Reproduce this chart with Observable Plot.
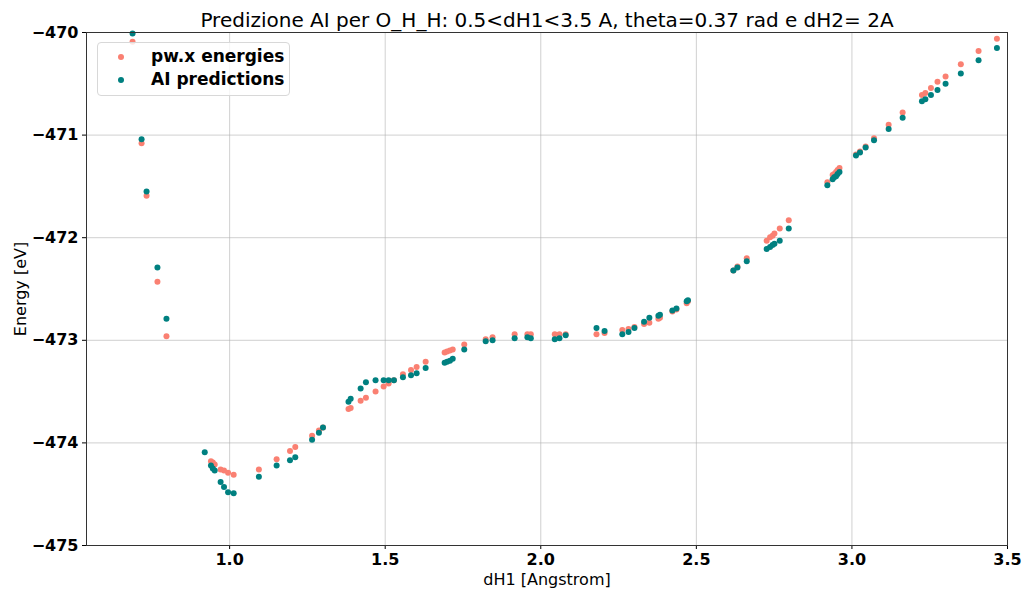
<!DOCTYPE html>
<html>
<head>
<meta charset="utf-8">
<script src="https://cdn.jsdelivr.net/npm/d3@7"></script>
<script src="https://cdn.jsdelivr.net/npm/@observablehq/plot@0.6"></script>
<style>
  body { margin: 0; background: #fff; }
  #wrap { position: relative; width: 1023px; height: 590px; font-family: "DejaVu Sans", sans-serif; }
  #legend { position: absolute; left: 97px; top: 42px; width: 193px; height: 54px; box-sizing: border-box;
    border: 1px solid #d8d8d8; border-radius: 4px; background: rgba(255,255,255,0.8); }
  .li { position: absolute; font-weight: bold; font-size: 17px; line-height: 20px; color: #000; white-space: nowrap; }
  .sw { position: absolute; left: 20px; width: 6px; height: 6px; border-radius: 50%; }
</style>
</head>
<body>
<div id="wrap">
  <div id="chart"></div>
  <div id="legend">
    <div class="sw" style="top:11px;background:#fa8072"></div>
    <div class="li" style="left:53px;top:3px">pw.x energies</div>
    <div class="sw" style="top:34px;background:#008080"></div>
    <div class="li" style="left:53px;top:26px">AI predictions</div>
  </div>
</div>
<script>
// dH1 values (Angstrom), reference pw.x energies and AI predictions (eV)
const dH1 = [0.688,0.717,0.733,0.768,0.797,0.920,0.940,0.946,0.952,0.971,0.982,0.995,1.013,1.094,1.151,1.194,1.211,1.265,1.287,1.300,
  1.382,1.389,1.421,1.438,1.469,1.495,1.511,1.528,1.557,1.583,1.601,1.630,1.691,1.699,1.708,1.717,1.754,1.823,1.845,1.916,
  1.957,1.968,2.045,2.060,2.080,2.179,2.205,2.262,2.282,2.301,2.332,2.349,2.378,2.383,2.423,2.436,2.469,2.473,2.619,2.632,
  2.662,2.726,2.737,2.745,2.751,2.768,2.797,2.921,2.938,2.943,2.949,2.954,2.960,3.013,3.026,3.044,3.071,3.118,3.163,3.225,
  3.236,3.254,3.275,3.301,3.350,3.407,3.466];
const pwx = [-470.09,-471.08,-471.59,-472.43,-472.96,null,-474.18,-474.19,-474.21,-474.26,-474.27,-474.29,-474.31,-474.26,-474.16,-474.08,-474.04,-473.93,-473.88,-473.85,
  -473.67,-473.66,-473.59,-473.56,-473.50,-473.45,-473.42,-473.39,-473.33,-473.29,-473.26,-473.21,-473.12,-473.11,-473.10,-473.09,-473.04,-472.99,-472.97,-472.94,
  -472.94,-472.94,-472.94,-472.94,-472.94,-472.94,-472.93,-472.90,-472.89,-472.87,-472.84,-472.83,-472.79,-472.78,-472.72,-472.70,-472.64,-472.62,-472.32,-472.28,
  -472.20,-472.03,-471.995,-471.98,-471.96,-471.91,-471.83,-471.46,-471.39,-471.38,-471.36,-471.34,-471.32,-471.19,-471.16,-471.11,-471.03,-470.90,-470.78,-470.61,
  -470.59,-470.54,-470.48,-470.43,-470.31,-470.18,-470.06];
const ai = [-470.01,-471.04,-471.55,-472.29,-472.79,-474.09,-474.22,-474.25,-474.27,-474.38,-474.43,-474.48,-474.49,-474.33,-474.22,-474.17,-474.14,-473.97,-473.90,-473.85,
  -473.60,-473.57,-473.47,-473.41,-473.39,-473.39,-473.39,-473.39,-473.36,-473.34,-473.32,-473.27,-473.22,-473.21,-473.20,-473.18,-473.09,-473.01,-473.00,-472.98,
  -472.97,-472.98,-472.99,-472.98,-472.95,-472.88,-472.91,-472.94,-472.92,-472.88,-472.82,-472.78,-472.76,-472.75,-472.71,-472.69,-472.62,-472.61,-472.32,-472.29,
  -472.23,-472.11,-472.09,-472.07,-472.06,-472.03,-471.91,-471.49,-471.43,-471.41,-471.40,-471.38,-471.36,-471.20,-471.17,-471.12,-471.05,-470.94,-470.83,-470.67,
  -470.65,-470.61,-470.56,-470.50,-470.40,-470.27,-470.15];
const xTicks = [1.0, 1.5, 2.0, 2.5, 3.0, 3.5];
const yTicks = [-475, -474, -473, -472, -471, -470];
const titleText = "Predizione AI per O_H_H: 0.5<dH1<3.5 A, theta=0.37 rad e dH2= 2A";

const pwData = dH1.map((x, i) => ({x, y: pwx[i]})).filter(d => d.y != null);
const aiData = dH1.map((x, i) => ({x, y: ai[i]})).filter(d => d.y != null);
const minus = d3.format("d");

const chart = Plot.plot({
  width: 1023, height: 590,
  marginLeft: 86, marginRight: 16, marginTop: 32, marginBottom: 45,
  style: {fontFamily: "DejaVu Sans", fontSize: "16px", fontWeight: "bold", background: "#fff", color: "#000"},
  x: {domain: [0.54, 3.5]},
  y: {domain: [-475, -470]},
  marks: [
    Plot.gridX(xTicks, {stroke: "#b0b0b0", strokeOpacity: 0.6}),
    Plot.gridY(yTicks, {stroke: "#b0b0b0", strokeOpacity: 0.6}),
    Plot.axisX(xTicks, {tickSize: 4, tickPadding: 4, tickFormat: d => d.toFixed(1), label: null, fontWeight: "bold"}),
    Plot.axisY(yTicks, {tickSize: 4, tickPadding: 4, tickFormat: minus, label: null, fontWeight: "bold"}),
    Plot.dot(pwData, {x: "x", y: "y", r: 3, fill: "#fa8072", stroke: "none"}),
    Plot.dot(aiData, {x: "x", y: "y", r: 3, fill: "#008080", stroke: "none"}),
    Plot.frame({stroke: "#333", strokeWidth: 1}),
    Plot.text([titleText], {frameAnchor: "top", lineAnchor: "middle", dy: -12, fontSize: 20, fontWeight: "normal", fill: "#000"}),
    Plot.text(["dH1 [Angstrom]"], {frameAnchor: "bottom", lineAnchor: "middle", dy: 34, fontSize: 16, fontWeight: "normal", fill: "#000"}),
    Plot.text(["Energy [eV]"], {frameAnchor: "left", textAnchor: "middle", lineAnchor: "middle", dx: -66, rotate: -90, fontSize: 16, fontWeight: "normal", fill: "#000"})
  ]
});
document.getElementById("chart").appendChild(chart);
</script>
</body>
</html>
